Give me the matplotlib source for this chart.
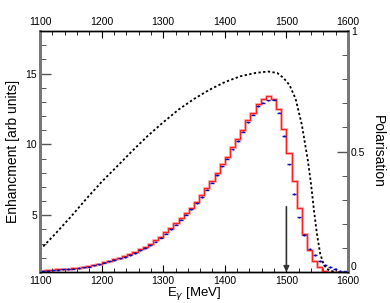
import numpy as np
import matplotlib
matplotlib.use('Agg')
import matplotlib.pyplot as plt
from matplotlib.ticker import MultipleLocator

plt.rcParams['font.family'] = ['Liberation Sans', 'DejaVu Sans']

# histogram bins (60 bins, 1100 - 1600 MeV)
edges = np.linspace(1100, 1600, 61)
centres = 0.5 * (edges[:-1] + edges[1:])

# enhancement, red (fit / calc) histogram
enh_red = [1.10, 1.12, 1.15, 1.18, 1.20, 1.23, 1.27, 1.30, 1.35, 1.42,
           1.50, 1.58, 1.70, 1.80, 1.90, 2.00, 2.12, 2.25, 2.40, 2.60,
           2.75, 2.95, 3.25, 3.50, 3.80, 4.10, 4.45, 4.80, 5.15, 5.50,
           5.95, 6.40, 6.90, 7.40, 7.95, 8.60, 9.10, 9.80, 10.35, 11.05,
           11.70, 12.25, 12.85, 13.20, 13.40, 13.20, 12.50, 11.10, 9.40, 7.40,
           5.50, 3.70, 2.55, 1.80, 1.35, 1.10, 1.02, 1.00, 1.00, 1.00]

# enhancement, blue (data) points
enh_blue = [1.08, 1.10, 1.12, 1.15, 1.18, 1.21, 1.24, 1.28, 1.32, 1.38,
            1.46, 1.54, 1.65, 1.75, 1.86, 1.96, 2.06, 2.20, 2.34, 2.52,
            2.68, 2.88, 3.15, 3.42, 3.70, 4.00, 4.35, 4.70, 5.05, 5.42,
            5.85, 6.30, 6.80, 7.30, 7.85, 8.45, 9.00, 9.65, 10.25, 10.90,
            11.55, 12.10, 12.70, 12.95, 13.10, 13.15, 12.25, 10.60, 8.60, 6.50,
            4.86, 3.60, 2.65, 2.20, 1.78, 1.50, 1.35, 1.20, 1.10, 1.05]
enh_blue_err = [0.05] * 60

# polarisation (right axis)
pol_E = [1100, 1125, 1150, 1175, 1200, 1225, 1250, 1275, 1300, 1325,
         1350, 1375, 1400, 1425, 1450, 1470, 1485, 1495, 1505, 1515,
         1525, 1535, 1540, 1545, 1550, 1555, 1560, 1565, 1570, 1580]
pol = [0.092, 0.159, 0.229, 0.303, 0.374, 0.438, 0.503, 0.565, 0.621, 0.674,
       0.718, 0.756, 0.788, 0.812, 0.826, 0.832, 0.826, 0.806, 0.776, 0.718,
       0.612, 0.460, 0.365, 0.250, 0.150, 0.075, 0.035, 0.015, 0.006, 0.0]

edge_mark = 1500  # arrow position

fig = plt.figure(figsize=(3.9, 3.03), dpi=100)
ax = fig.add_axes([40/390, 31/303, 308/390, 241/303])
ax2 = ax.twinx()

ax.stairs(enh_red, edges, color='#ff6060', lw=2.0, alpha=0.5, baseline=None, zorder=3)
ax.stairs(enh_red, edges, color='#ff2020', lw=0.9, baseline=None, zorder=3)
ax.errorbar(centres, enh_blue, xerr=(edges[1] - edges[0]) * 0.38, yerr=enh_blue_err,
            fmt='none', ecolor='#1010b0', elinewidth=1.0, zorder=4)
ax.annotate('', xy=(edge_mark, 1.0), xytext=(edge_mark, 5.6),
            arrowprops=dict(arrowstyle='-|>', color='#333333', lw=1.2,
                            mutation_scale=8, shrinkA=0, shrinkB=0))

ax2.plot(pol_E, pol, color='black', lw=1.3, ls=(0, (1.3, 1.3)))

ax.set_xlim(1100, 1600)
ax.set_ylim(1, 18)
ax2.set_ylim(0, 1)

ax.xaxis.set_major_locator(MultipleLocator(100))
ax.xaxis.set_minor_locator(MultipleLocator(20))
ax.yaxis.set_major_locator(MultipleLocator(5))
ax.yaxis.set_minor_locator(MultipleLocator(1))
ax2.yaxis.set_minor_locator(MultipleLocator(0.1))
ax2.set_yticks([0, 0.5, 1])
ax2.set_yticklabels(['0', '0.5', '1'])

ax.tick_params(axis='x', which='both', direction='in', top=True, labeltop=True,
               labelsize=7.5, pad=3)
ax.tick_params(axis='x', which='major', length=5, width=0.8)
ax.tick_params(axis='x', which='minor', length=3, width=0.6)
ax.tick_params(axis='y', which='both', direction='in', labelsize=7.5, pad=2,
               color='#555555')
ax.tick_params(axis='y', which='major', length=8, width=1.0)
ax.tick_params(axis='y', which='minor', length=4, width=0.7)
ax2.tick_params(axis='y', which='both', direction='in', labelsize=7.5, pad=2,
                color='#555555')
ax2.tick_params(axis='y', which='major', length=8, width=1.0)
ax2.tick_params(axis='y', which='minor', length=4, width=0.7)
ax2.get_yticklabels()[0].set_va('bottom')

for a in (ax, ax2):
    a.spines['left'].set_color('#777777')
    a.spines['left'].set_linewidth(2.0)
    a.spines['right'].set_color('#777777')
    a.spines['right'].set_linewidth(2.0)
    a.spines['top'].set_linewidth(1.0)
    a.spines['bottom'].set_linewidth(1.0)

ax.set_xlabel('E$_{\\gamma}$ [MeV]', fontsize=9.5, labelpad=-1)
ax.set_ylabel('Enhancment [arb units]', fontsize=10, labelpad=4)
ax2.set_ylabel('Polarisation', fontsize=10, rotation=-90, labelpad=14)

fig.savefig('out.png', dpi=100)
